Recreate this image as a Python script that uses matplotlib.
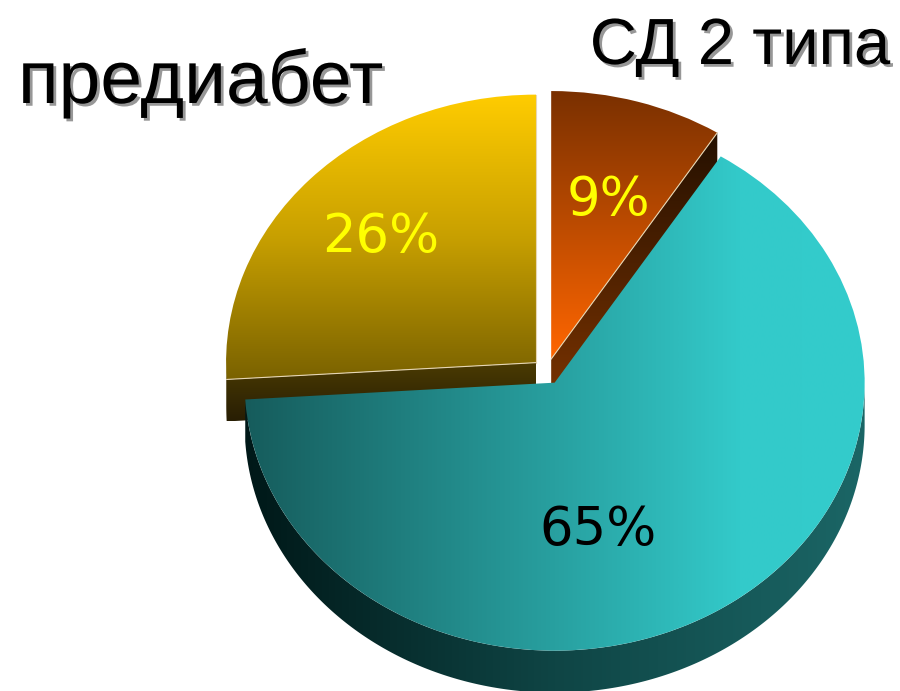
import numpy as np
import matplotlib
matplotlib.use('Agg')
import matplotlib.pyplot as plt
from matplotlib.patches import Polygon
from matplotlib.transforms import Affine2D
from matplotlib.colors import LinearSegmentedColormap
import matplotlib.patheffects as pe

# data: slices in clockwise order from 12 o'clock
shares = [9, 65, 26]
names = ['СД 2 типа', '', 'предиабет']
pct_colors = ['#ffff00', '#000000', '#ffff00']

# layout in pixels (y measured from the top of the picture)
W, H = 900, 691
CX, CY = 547, 371.5
R = 310
TILT = 0.8645      # vertical squash of the disc
DEPTH = 42         # visible thickness of the disc
EXPLODE = 15
pct_pos = [(608, 200), (598, 530), (381, 237)]
name_pos = [(890, 64, 'right', 47), None, (18, 103, 'left', 54)]

# gradients: bottom->top for vertical, left->right for horizontal
top_stops = [
    ['#ff6600', '#7a3000'],
    [(0, '#165c5c'), (0.5, '#28a0a0'), (0.8, '#33caca'), (1, '#33cccc')],
    [(0, '#7a6200'), (0.5, '#c8a000'), (1, '#ffcc00')],
]
side_stops = [
    ['#7a3300', '#241000'],
    [(0, '#001818'), (0.5, '#0f4545'), (1, '#1b6666')],
    [(0, '#281e04'), (0.34, '#6a5500'), (0.71, '#7d6400'), (1, '#7d6400')],
]
vertical = [True, False, True]


def gradient(ax, clip, ext, stops, vert, z):
    cmap = LinearSegmentedColormap.from_list('g', stops)
    g = np.linspace(0, 1, 256)
    arr = g.reshape(-1, 1) if vert else g.reshape(1, -1)
    im = ax.imshow(arr, cmap=cmap, extent=ext, origin='lower', aspect='auto',
                   interpolation='bilinear', zorder=z)
    im.set_clip_path(clip)


fig = plt.figure(figsize=(W / 100, H / 100), dpi=100)
ax = fig.add_axes([0, 0, 1, 1])

cy = H - CY
squish = Affine2D().translate(0, -cy).scale(1, TILT).translate(0, cy)
T = squish + ax.transData
d = DEPTH / TILT

wedges, _ = ax.pie(shares, startangle=90, counterclock=False, radius=R,
                   center=(CX, cy), explode=[EXPLODE] * len(shares))

# paint back slices first, front slices last
order = sorted(range(len(wedges)),
               key=lambda k: -np.sin(np.radians((wedges[k].theta1 + wedges[k].theta2) / 2)))

z = 2
for i in order:
    w = wedges[i]
    w.set_transform(T)
    w.set_facecolor('none')
    w.set_linewidth(0)
    wx, wy = w.center

    # side faces that look toward the viewer
    sides = []
    th = np.radians(np.linspace(w.theta1, w.theta2, 600))
    vis = np.sin(th) < 0
    if vis.any():
        t = th[vis]
        x = wx + w.r * np.cos(t)
        y = wy + w.r * np.sin(t)
        sides.append(np.r_[np.c_[x, y], np.c_[x[::-1], y[::-1] - d]])
    edges = []
    for ang, nrm in [(w.theta1, w.theta1 - 90), (w.theta2, w.theta2 + 90)]:
        if np.sin(np.radians(nrm)) < -1e-9:
            ex = wx + w.r * np.cos(np.radians(ang))
            ey = wy + w.r * np.sin(np.radians(ang))
            sides.append(np.array([[wx, wy], [ex, ey], [ex, ey - d], [wx, wy - d]]))
            edges.append((ex, ey))

    if sides:
        allp = squish.transform(np.vstack(sides))
        ext = (allp[:, 0].min(), allp[:, 0].max(), allp[:, 1].min(), allp[:, 1].max())
        for s in sides:
            poly = Polygon(s, closed=True, transform=T, fc='none', lw=0)
            ax.add_patch(poly)
            gradient(ax, poly, ext, side_stops[i], vertical[i], z)
        z += 1

    bb = w.get_path().transformed(squish).get_extents()
    gradient(ax, w, (bb.x0, bb.x1, bb.y0, bb.y1), top_stops[i], vertical[i], z)
    z += 1
    for ex, ey in edges:
        ax.plot([wx, ex], [wy, ey], color='#e6d6b4', lw=0.8, transform=T, zorder=z)
    z += 1

for i, v in enumerate(shares):
    px, py = pct_pos[i]
    ax.text(px, H - py, f'{v}%', color=pct_colors[i], fontsize=38,
            family='DejaVu Sans', ha='center', va='center', zorder=50)

shadow = [pe.withSimplePatchShadow(offset=(2, -2), shadow_rgbFace='#8c8c8c', alpha=0.9)]
for i, nm in enumerate(names):
    if not nm:
        continue
    tx, ty, ha, fs = name_pos[i]
    ax.text(tx, H - ty, nm, fontsize=fs, family='Liberation Sans', ha=ha,
            va='baseline', color='black', path_effects=shadow, zorder=50)

ax.set_aspect('auto')
ax.set_xlim(0, W)
ax.set_ylim(0, H)
ax.axis('off')
fig.savefig('out.png', dpi=100, facecolor='white')
